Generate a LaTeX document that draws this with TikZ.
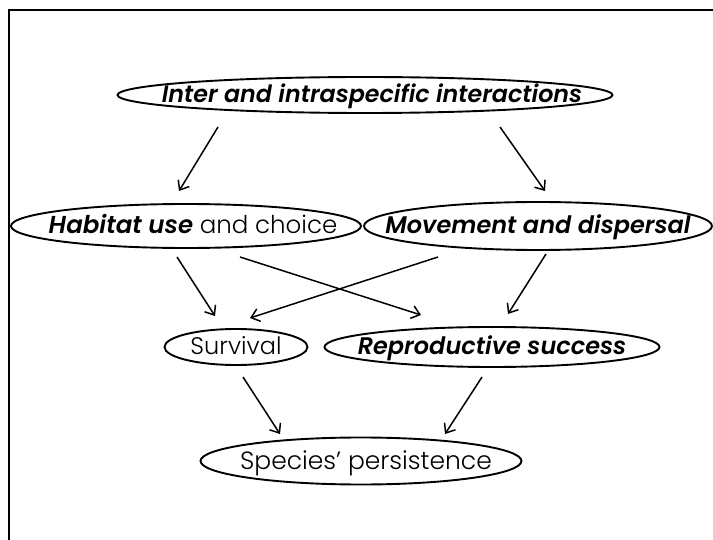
\documentclass[tikz,border=0pt]{standalone}
\usepackage{fontspec}
\setmainfont{Poppins}[UprightFont=* Light, BoldItalicFont=* SemiBold Italic]
\usetikzlibrary{shapes.geometric,arrows.meta}
\begin{document}
\begin{tikzpicture}[x=1pt,y=-1pt,
  ell/.style={draw, ellipse, line width=1.9pt, inner sep=0pt},
  txt/.style={inner sep=0pt, anchor=base, yshift=-8pt},
  emph/.style={txt, font=\bfseries\itshape},
  conn/.style={line width=1.5pt, -{Straight Barb[length=8pt,width=13pt,line width=1.5pt]}}]
\useasboundingbox (0,0) rectangle (713,540);
\draw[line width=2.2pt] (9,545) -- (9,10) -- (720,10);
% ellipses
\node[ell, minimum width=495, minimum height=36] (top) at (365,95) {};
\node[emph, xshift=7pt, font=\fontsize{23.8}{26}\selectfont\bfseries\itshape] (toptxt) at (top.center) {Inter and intraspecific interactions};
\node[ell, minimum width=350, minimum height=44] (hab) at (186,226) {};
\node[txt, xshift=7pt, font=\fontsize{24.5}{28}\selectfont] (habtxt) at (hab.center) {\textbf{\textit{Habitat use}} and choice};
\node[ell, minimum width=348, minimum height=48] (mov) at (538,226) {};
\node[emph, font=\fontsize{24}{26}\selectfont\bfseries\itshape] (movtxt) at (mov.center) {Movement and dispersal};
\node[ell, minimum width=143, minimum height=36] (surv) at (236,347) {};
\node[txt, font=\fontsize{24}{26}\selectfont] (survtxt) at (surv.center) {Survival};
\node[ell, minimum width=335, minimum height=40] (rep) at (492,347) {};
\node[emph, font=\fontsize{24}{26}\selectfont\bfseries\itshape] (reptxt) at (rep.center) {Reproductive success};
\node[ell, minimum width=321, minimum height=47] (spec) at (361,461) {};
\node[txt, xshift=5pt, font=\fontsize{25}{28}\selectfont] (spectxt) at (spec.center) {Species’ persistence};
% arrow end points
\coordinate (a1s) at (218,127); \coordinate (a1e) at (179,191);
\coordinate (a2s) at (500,127); \coordinate (a2e) at (545,191);
\coordinate (a3s) at (177,257); \coordinate (a3e) at (215,316);
\coordinate (a4s) at (240,257); \coordinate (a4e) at (421,315);
\coordinate (a5s) at (438,257); \coordinate (a5e) at (250,318);
\coordinate (a6s) at (546,254); \coordinate (a6e) at (508,314);
\coordinate (a7s) at (243,377); \coordinate (a7e) at (280,434);
\coordinate (a8s) at (482,377); \coordinate (a8e) at (445,434);
\draw[conn] (a1s) -- (a1e);
\draw[conn] (a2s) -- (a2e);
\draw[conn] (a3s) -- (a3e);
\draw[conn] (a4s) -- (a4e);
\draw[conn] (a5s) -- (a5e);
\draw[conn] (a6s) -- (a6e);
\draw[conn] (a7s) -- (a7e);
\draw[conn] (a8s) -- (a8e);
\end{tikzpicture}
\end{document}
